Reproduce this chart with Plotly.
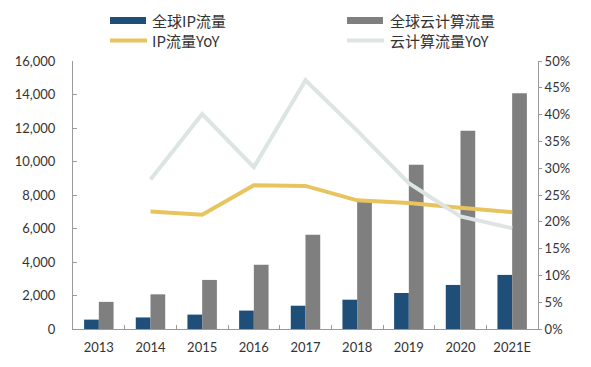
import plotly.graph_objects as go

years = ["2013", "2014", "2015", "2016", "2017", "2018", "2019", "2020", "2021E"]
ip_traffic = [560, 690, 860, 1100, 1390, 1750, 2150, 2630, 3230]
cloud_traffic = [1620, 2070, 2930, 3830, 5620, 7650, 9800, 11830, 14070]
ip_yoy = [None, 0.219, 0.213, 0.268, 0.267, 0.240, 0.235, 0.226, 0.218]
cloud_yoy = [None, 0.279, 0.401, 0.302, 0.464, 0.370, 0.272, 0.210, 0.188]

names = ["全球IP流量", "全球云计算流量", "IP流量YoY", "云计算流量YoY"]
BLUE = "#1F4E79"
GRAY = "#7F7F7F"
YELLOW = "#E8C45F"
LIGHT = "#DCE5E3"
AXIS = "#9A9A9A"
TXT = "#333333"

# page body has an 8px default margin; size the figure so the plot area
# lands where the reference has it
OFF = 8
W, H = 591 - OFF, 367 - OFF
L, R, T, B = 73 - OFF, 53, 61 - OFF, 38
PW, PH = W - L - R, H - T - B

fig = go.Figure()
fig.add_trace(go.Bar(x=years, y=ip_traffic, name=names[0], marker_color=BLUE,
                     marker_line_width=0, yaxis="y"))
fig.add_trace(go.Bar(x=years, y=cloud_traffic, name=names[1], marker_color=GRAY,
                     marker_line_width=0, yaxis="y"))
fig.add_trace(go.Scatter(x=years, y=ip_yoy, name=names[2], mode="lines",
                         line=dict(color=YELLOW, width=4), yaxis="y2"))
fig.add_trace(go.Scatter(x=years, y=cloud_yoy, name=names[3], mode="lines",
                         line=dict(color=LIGHT, width=4), yaxis="y2"))

font_tick = dict(family="Lato, Noto Sans", size=13, color=TXT)

fig.update_layout(
    width=W, height=H,
    margin=dict(l=L, r=R, t=T, b=B, pad=0, autoexpand=False),
    paper_bgcolor="white", plot_bgcolor="white",
    showlegend=False,
    barmode="group", bargap=0.43, bargroupgap=0,
    xaxis=dict(type="category", showline=True, linecolor=AXIS, linewidth=1,
               ticks="inside", ticklen=4, tickcolor=AXIS, tickson="boundaries",
               showgrid=False, tickfont=font_tick, ticklabelstandoff=6,
               automargin=False),
    yaxis=dict(range=[0, 16000], dtick=2000, tickformat=",d", showline=True,
               linecolor=AXIS, linewidth=1, ticks="inside", ticklen=4,
               tickcolor=AXIS, showgrid=False, zeroline=False,
               tickfont=font_tick, ticklabelstandoff=14, automargin=False),
    yaxis2=dict(range=[0, 0.5], dtick=0.05, tickformat=".0%", overlaying="y",
                side="right", showline=True, linecolor=AXIS, linewidth=1,
                ticks="outside", ticklen=3, tickcolor=AXIS, showgrid=False,
                zeroline=False, tickfont=font_tick, automargin=False),
)

def px_x(p):
    return (p - OFF - L) / PW

def px_y(p):
    return (H - B - (p - OFF)) / PH

legend_items = [
    (names[0], "bar", BLUE, 110, 146, 20.5, 150),
    (names[1], "bar", GRAY, 347, 383, 20.5, 388),
    (names[2], "line", YELLOW, 110, 147, 40.5, 150),
    (names[3], "line", LIGHT, 347, 384, 40.5, 388),
]
for text, kind, color, x0, x1, yc, tx in legend_items:
    if kind == "bar":
        fig.add_shape(type="rect", xref="paper", yref="paper",
                      x0=px_x(x0), x1=px_x(x1), y0=px_y(yc + 3.5), y1=px_y(yc - 3.5),
                      fillcolor=color, line_width=0)
    else:
        fig.add_shape(type="line", xref="paper", yref="paper",
                      x0=px_x(x0), x1=px_x(x1), y0=px_y(yc), y1=px_y(yc),
                      line=dict(color=color, width=4))
    fig.add_annotation(text=text, xref="paper", yref="paper", x=px_x(tx), y=px_y(yc),
                       xanchor="left", yanchor="middle", showarrow=False,
                       font=dict(family="Noto Sans CJK SC", size=15, color=TXT))

fig.write_html("out.html")
